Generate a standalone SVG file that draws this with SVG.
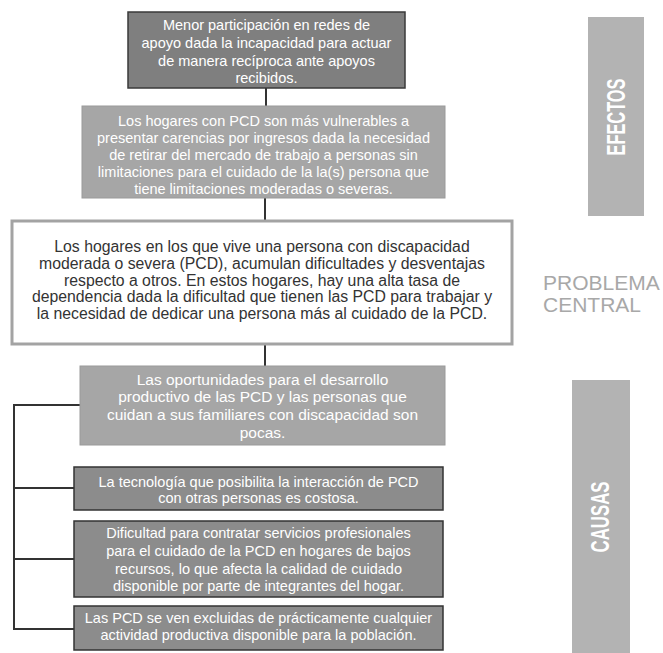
<svg xmlns="http://www.w3.org/2000/svg" width="663" height="653" viewBox="0 0 663 653">
<style>
text{font-family:"Liberation Sans",Arial,sans-serif;text-anchor:middle}
.lt{fill:#ffffff;font-size:14.5px}
.lt4{fill:#ffffff;font-size:15.5px}
.dk{fill:#333333;font-size:15.8px}
.b1{fill:#7f7f7f;stroke:#3a3a3a;stroke-width:1.5}
.b2{fill:#a6a6a6;stroke:#9a9a9a;stroke-width:1}
.b3{fill:#ffffff;stroke:#a3a3a3;stroke-width:3}
.b5{fill:#8c8c8c;stroke:#333333;stroke-width:1.5}
.side{fill:#b3b3b3}
.sidet{fill:#ffffff;font-weight:bold;font-size:26px}
.pc{fill:#a8a8a8;font-size:21px;text-anchor:start}
.conn{stroke:#333333;stroke-width:2;fill:none}
</style>
<rect width="663" height="653" fill="#ffffff"/>
<g id="connectors">
<line class="conn" x1="266" y1="88" x2="266" y2="106"/>
<line class="conn" x1="265" y1="198" x2="265" y2="221"/>
<line class="conn" x1="265" y1="344" x2="265" y2="366"/>
<path class="conn" d="M80,405 H14 V629 H74"/>
<line class="conn" x1="14" y1="488" x2="74" y2="488"/>
<line class="conn" x1="14" y1="559" x2="74" y2="559"/>
</g>
<g id="efecto1">
<rect class="b1" x="128" y="12" width="277" height="76"/>
<text class="lt" x="266.5" y="30">Menor participación en redes de</text>
<text class="lt" x="266.5" y="48">apoyo dada la incapacidad para actuar</text>
<text class="lt" x="266.5" y="66">de manera recíproca ante apoyos</text>
<text class="lt" x="266.5" y="83">recibidos.</text>
</g>
<g id="efecto2">
<rect class="b2" x="82" y="106" width="363" height="92"/>
<text class="lt" x="263.5" y="126">Los hogares con PCD son más vulnerables a</text>
<text class="lt" x="263.5" y="143">presentar carencias por ingresos dada la necesidad</text>
<text class="lt" x="263.5" y="160">de retirar del mercado de trabajo a personas sin</text>
<text class="lt" x="263.5" y="177">limitaciones para el cuidado de la la(s) persona que</text>
<text class="lt" x="263.5" y="194">tiene limitaciones moderadas o severas.</text>
</g>
<g id="problema">
<rect class="b3" x="12" y="221" width="500" height="123"/>
<text class="dk" x="262" y="252">Los hogares en los que vive una persona con discapacidad</text>
<text class="dk" x="262" y="269">moderada o severa (PCD), acumulan dificultades y desventajas</text>
<text class="dk" x="262" y="286">respecto a otros. En estos hogares, hay una alta tasa de</text>
<text class="dk" x="262" y="302">dependencia dada la dificultad que tienen las PCD para trabajar y</text>
<text class="dk" x="262" y="319">la necesidad de dedicar una persona más al cuidado de la PCD.</text>
</g>
<g id="causa1">
<rect class="b2" x="80" y="366" width="365" height="79"/>
<text class="lt4" x="262.5" y="385">Las oportunidades para el desarrollo</text>
<text class="lt4" x="262.5" y="402">productivo de las PCD y las personas que</text>
<text class="lt4" x="262.5" y="420">cuidan a sus familiares con discapacidad son</text>
<text class="lt4" x="262.5" y="438">pocas.</text>
</g>
<g id="causa2">
<rect class="b5" x="74" y="467" width="369" height="43"/>
<text class="lt" x="258.5" y="487">La tecnología que posibilita la interacción de PCD</text>
<text class="lt" x="258.5" y="503">con otras personas es costosa.</text>
</g>
<g id="causa3">
<rect class="b5" x="74" y="521" width="369" height="76"/>
<text class="lt" x="258.5" y="538">Dificultad para contratar servicios profesionales</text>
<text class="lt" x="258.5" y="556">para el cuidado de la PCD en hogares de bajos</text>
<text class="lt" x="258.5" y="574">recursos, lo que afecta la calidad de cuidado</text>
<text class="lt" x="258.5" y="591">disponible por parte de integrantes del hogar.</text>
</g>
<g id="causa4">
<rect class="b5" x="74" y="606" width="369" height="44"/>
<text class="lt" x="258.5" y="623">Las PCD se ven excluidas de prácticamente cualquier</text>
<text class="lt" x="258.5" y="640">actividad productiva disponible para la población.</text>
</g>
<g id="label-efectos">
<rect class="side" x="588" y="17" width="56" height="199"/>
<text class="sidet" transform="translate(625,117) rotate(-90)" textLength="77" lengthAdjust="spacingAndGlyphs">EFECTOS</text>
</g>
<g id="label-problema">
<text class="pc" x="543" y="290">PROBLEMA</text>
<text class="pc" x="543" y="312">CENTRAL</text>
</g>
<g id="label-causas">
<rect class="side" x="572" y="380" width="58" height="273"/>
<text class="sidet" transform="translate(609,517) rotate(-90)" textLength="71" lengthAdjust="spacingAndGlyphs">CAUSAS</text>
</g>
</svg>
